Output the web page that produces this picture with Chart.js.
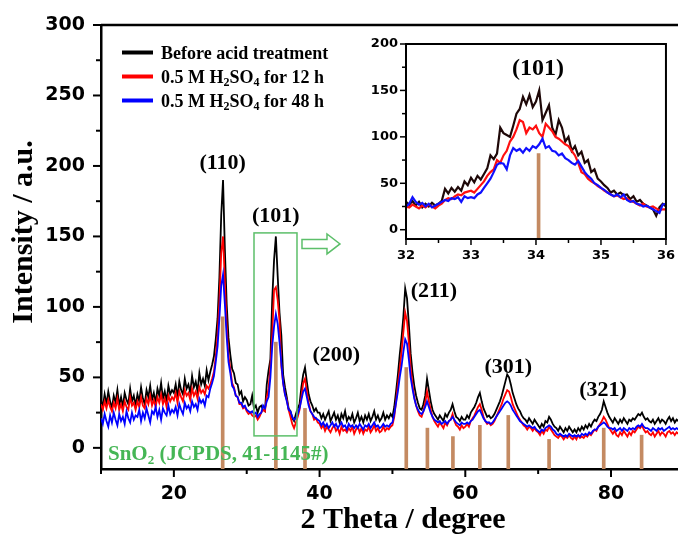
<!DOCTYPE html>
<html>
<head>
<meta charset="utf-8">
<script src="https://cdn.jsdelivr.net/npm/chart.js@4.4.1/dist/chart.umd.min.js"></script>
<style>
html, body { margin: 0; padding: 0; background: #fff; overflow: hidden; }
#wrap { position: relative; width: 678px; height: 535px; overflow: hidden; }
#main { position: absolute; left: 0; top: 0; }
#inset { position: absolute; left: 340px; top: 30px; }
</style>
</head>
<body>
<div id="wrap">
<canvas id="main" width="705" height="535"></canvas>
<canvas id="inset" width="338" height="232"></canvas>
</div>
<script>
// scan grid of the main pattern: 10 deg upward, 0.25 deg step
var angleStart = 10, angleStep = 0.25;

var before = [
  34, 29, 38, 31, 40, 33, 28, 37, 32, 41, 30, 36, 29, 39, 34, 31, 42, 33, 37, 30,
  38, 33, 43, 35, 31, 41, 36, 44, 34, 39, 32, 42, 37, 46, 35, 40, 33, 44, 38, 41,
  39, 45, 36, 47, 41, 38, 49, 42, 45, 39, 51, 43, 47, 40, 53, 45, 49, 44, 55, 48,
  54, 59, 65, 77, 92, 121, 165, 190, 141, 102, 78, 66, 56, 53, 46, 45, 38, 40, 33, 36,
  34, 30, 31, 37, 28, 30, 25, 29, 30, 27, 26, 45, 55, 63, 105, 133, 150, 122, 96, 80,
  52, 43, 36, 28, 26, 21, 19, 24, 28, 31, 43, 52, 57, 47, 38, 33, 30, 26, 28, 25,
  25, 21, 24, 20, 23, 26, 19, 22, 25, 20, 23, 18, 24, 21, 26, 19, 22, 20, 24, 18,
  21, 25, 19, 22, 18, 23, 20, 24, 19, 22, 26, 20, 23, 19, 21, 25, 20, 23, 21, 24,
  22, 29, 40, 52, 66, 78, 93, 113, 106, 88, 67, 54, 44, 37, 32, 28, 27, 31, 37, 49,
  41, 33, 27, 24, 22, 20, 23, 21, 19, 24, 22, 25, 27, 31, 26, 22, 21, 19, 22, 20,
  20, 23, 21, 25, 27, 29, 32, 36, 39, 33, 28, 25, 22, 23, 21, 22, 24, 27, 30, 33,
  37, 42, 47, 52, 50, 45, 39, 35, 31, 28, 26, 23, 21, 20, 18, 21, 19, 17, 20, 18,
  16, 14, 17, 15, 19, 18, 22, 20, 17, 15, 14, 12, 15, 13, 11, 14, 12, 15, 13, 11,
  13, 11, 14, 12, 15, 13, 16, 14, 17, 15, 18, 20, 19, 22, 24, 27, 33, 29, 25, 22,
  20, 18, 21, 19, 17, 20, 18, 21, 19, 17, 20, 19, 21, 20, 22, 24, 23, 25, 22, 20,
  21, 19, 18, 20, 17, 19, 21, 18, 20, 19, 17, 20, 22, 19, 21, 18, 20, 19
];
var acid12 = [
  31, 27, 33, 28, 34, 29, 26, 32, 28, 35, 27, 31, 26, 33, 29, 27, 36, 30, 32, 27,
  33, 29, 36, 30, 28, 35, 31, 37, 30, 34, 29, 36, 32, 38, 31, 35, 29, 37, 33, 36,
  34, 39, 32, 40, 36, 33, 41, 37, 39, 34, 42, 37, 40, 35, 43, 39, 41, 38, 44, 42,
  45, 49, 54, 65, 80, 104, 138, 150, 118, 87, 65, 56, 46, 43, 37, 36, 31, 31, 28, 29,
  26, 24, 25, 23, 22, 23, 20, 22, 25, 27, 26, 36, 42, 58, 80, 112, 114, 105, 90, 58,
  46, 38, 34, 27, 22, 17, 14, 18, 22, 27, 36, 46, 49, 40, 32, 26, 24, 20, 21, 18,
  17, 14, 16, 12, 15, 13, 11, 14, 16, 12, 14, 10, 15, 12, 13, 11, 14, 12, 15, 10,
  13, 15, 11, 14, 10, 13, 12, 15, 11, 13, 16, 12, 14, 11, 12, 15, 12, 14, 13, 15,
  16, 22, 33, 45, 56, 68, 82, 96, 90, 75, 57, 45, 36, 30, 26, 23, 22, 26, 32, 40,
  33, 27, 22, 19, 17, 15, 18, 16, 14, 18, 16, 19, 20, 24, 19, 16, 15, 13, 16, 14,
  15, 17, 15, 19, 21, 23, 26, 29, 31, 27, 22, 19, 17, 18, 16, 17, 19, 22, 25, 28,
  31, 35, 38, 41, 40, 36, 31, 28, 25, 22, 20, 18, 16, 15, 13, 15, 14, 12, 14, 12,
  11, 9, 12, 10, 13, 12, 15, 13, 11, 9, 8, 7, 9, 8, 6, 8, 7, 9, 7, 6,
  8, 6, 9, 7, 8, 7, 9, 8, 10, 9, 11, 13, 12, 15, 17, 19, 22, 20, 17, 14,
  12, 10, 12, 9, 8, 11, 9, 12, 10, 8, 11, 9, 12, 11, 13, 15, 14, 16, 13, 11,
  12, 10, 9, 11, 8, 10, 12, 9, 11, 10, 8, 11, 12, 10, 11, 9, 11, 10
];
var acid48 = [
  21, 17, 24, 19, 15, 23, 18, 25, 20, 16, 24, 19, 22, 17, 26, 21, 18, 25, 20, 23,
  22, 27, 19, 25, 21, 28, 23, 18, 26, 24, 29, 22, 27, 20, 28, 25, 23, 30, 24, 27,
  25, 29, 23, 31, 27, 24, 32, 28, 30, 26, 33, 29, 31, 27, 35, 32, 34, 30, 37, 36,
  42, 46, 51, 61, 72, 92, 115, 123, 102, 79, 61, 53, 44, 42, 37, 36, 32, 32, 29, 30,
  27, 26, 25, 26, 24, 25, 22, 24, 25, 30, 28, 33, 36, 50, 72, 86, 95, 88, 75, 60,
  46, 38, 33, 27, 26, 22, 20, 21, 24, 28, 34, 40, 42, 36, 30, 26, 24, 22, 21, 20,
  19, 16, 18, 15, 17, 14, 16, 18, 15, 17, 14, 16, 18, 15, 16, 13, 17, 15, 16, 14,
  16, 14, 17, 15, 13, 16, 15, 17, 14, 16, 18, 15, 16, 14, 15, 17, 15, 16, 15, 17,
  18, 24, 32, 40, 50, 58, 68, 77, 74, 63, 50, 42, 35, 30, 27, 25, 24, 26, 29, 33,
  29, 25, 22, 20, 19, 18, 19, 17, 18, 19, 17, 19, 20, 22, 20, 18, 17, 16, 18, 17,
  17, 18, 17, 19, 20, 22, 24, 26, 27, 24, 21, 19, 18, 18, 17, 18, 20, 22, 24, 26,
  28, 30, 32, 33, 32, 30, 27, 25, 23, 21, 19, 18, 17, 16, 15, 16, 15, 14, 15, 13,
  12, 11, 13, 12, 14, 15, 16, 15, 13, 12, 10, 9, 10, 9, 8, 9, 8, 10, 9, 8,
  9, 8, 9, 8, 10, 9, 10, 9, 11, 10, 12, 13, 13, 15, 16, 17, 18, 17, 15, 14,
  14, 13, 14, 12, 13, 14, 12, 14, 13, 12, 14, 13, 14, 13, 15, 16, 15, 17, 15, 14,
  14, 13, 12, 14, 13, 12, 14, 13, 14, 12, 13, 14, 15, 13, 14, 13, 14, 13
];

// SnO2 reference lines (JCPDS 41-1445)
var refAngle  = [26.7, 34.0, 38.0, 51.9, 54.8, 58.3, 62.0, 65.9, 71.5, 79.0, 84.2];
var refHeight = [93, 75, 28, 57, 14, 8, 16, 23, 6, 14, 9];

// inset: (101) region, 32-36 deg, 0.05 deg step
var insetStart = 32, insetStep = 0.05;
var insetBefore = [
  30, 27, 31, 26, 30, 24, 28, 25, 29, 26, 28, 31, 44, 39, 45, 41, 46, 42, 52, 48,
  56, 51, 58, 54, 60, 66, 80, 76, 82, 110, 104, 102, 100, 112, 125, 130, 143, 135, 145, 132,
  138, 150, 118, 126, 134, 110, 102, 118, 110, 95, 100, 85, 90, 80, 84, 72, 75, 62, 65, 55,
  52, 48, 45, 40, 42, 38, 40, 37, 38, 33, 36, 30, 32, 28, 26, 24, 22, 15, 24, 28,
  25
];
var insetAcid12 = [
  25, 24, 27, 25, 23, 26, 24, 27, 25, 23, 26, 28, 32, 34, 33, 36, 38, 37, 40, 41,
  42, 40, 44, 48, 52, 58, 62, 65, 75, 72, 80, 85, 95, 100, 108, 118, 116, 104, 110, 108,
  112, 104, 100, 114, 110, 106, 100, 98, 95, 92, 90, 85, 80, 72, 62, 60, 55, 52, 50, 47,
  45, 42, 40, 38, 36, 37, 35, 33, 34, 31, 30, 28, 26, 28, 25, 24, 25, 23, 21, 22,
  22
];
var insetAcid48 = [
  25, 28, 35, 30, 27, 29, 25, 28, 24, 26, 28, 30, 32, 31, 34, 33, 35, 30, 36, 34,
  35, 34, 38, 40, 45, 50, 55, 62, 70, 72, 71, 65, 80, 88, 85, 87, 83, 88, 85, 90,
  88, 92, 98, 88, 90, 85, 84, 80, 82, 77, 75, 72, 70, 74, 68, 62, 58, 55, 50, 48,
  45, 43, 40, 38, 36, 38, 35, 38, 32, 30, 31, 28, 27, 25, 26, 24, 22, 20, 18, 27,
  28
];
var insetRefAngle = [34.04];
var insetRefHeight = [82];

var seriesNames = ['Before acid treatment', '0.5 M H2SO4 for 12 h', '0.5 M H2SO4 for 48 h'];
var peakNames = ['(110)', '(101)', '(200)', '(211)', '(301)', '(321)'];

// where the hkl labels sit, in data units
var peakLabelAt = [[26.7, 202], [34.0, 164], [42.3, 66], [55.7, 111], [65.9, 57], [78.9, 41]];

var BROWN = '#c48a62';
var GREEN = '#45b655';
var SERIF = '"Liberation Serif", "Times New Roman", serif';
var SANS = '"DejaVu Sans", sans-serif';

function toPoints(start, step, vals) {
  return vals.map(function(v, i) {
    return {x: Math.round((start + i * step) * 100) / 100, y: v};
  });
}

function refBars(angles, heights, base) {
  return angles.map(function(a, i) { return {x: a, y: [base, heights[i]]}; });
}

function drawTicks(chart, id, isMajor, majorLen, minorLen, width) {
  var s = chart.scales[id], c = chart.ctx;
  c.save();
  c.strokeStyle = '#000';
  c.lineWidth = width;
  s.ticks.forEach(function(t) {
    var len = isMajor(t.value) ? majorLen : minorLen;
    var p = s.getPixelForValue(t.value);
    c.beginPath();
    if (s.isHorizontal()) {
      c.moveTo(p, s.top);
      c.lineTo(p, s.top + len);
    } else {
      c.moveTo(s.right, p);
      c.lineTo(s.right - len, p);
    }
    c.stroke();
  });
  c.restore();
}

// text with subscript digits, e.g. H2SO4
function richText(c, parts, x, y, size) {
  parts.forEach(function(p) {
    var sub = p[1];
    c.font = 'bold ' + (sub ? Math.round(size * 0.64) : size) + 'px ' + SERIF;
    c.fillText(p[0], x, sub ? y + size * 0.2 : y);
    x += c.measureText(p[0]).width;
  });
}

function splitFormula(str) {
  var parts = [];
  str.split(/(H2SO4|SnO2)/).forEach(function(s) {
    if (s === 'H2SO4') parts.push(['H', 0], ['2', 1], ['SO', 0], ['4', 1]);
    else if (s === 'SnO2') parts.push(['SnO', 0], ['2', 1]);
    else if (s) parts.push([s, 0]);
  });
  return parts;
}

var mainDecor = {
  id: 'mainDecor',
  afterDatasetsDraw: function(chart) {
    var c = chart.ctx, x = chart.scales.x, y = chart.scales.y;
    // green zoom box + hollow arrow
    var bx0 = x.getPixelForValue(31.0), bx1 = x.getPixelForValue(36.9);
    var by0 = y.getPixelForValue(152.5), by1 = y.getPixelForValue(8.5);
    c.save();
    c.strokeStyle = '#5cbf6a';
    c.lineWidth = 1.5;
    c.strokeRect(bx0, by0, bx1 - bx0, by1 - by0);
    var ax = bx1 + 5, ay = by0 + 11;
    c.beginPath();
    c.moveTo(ax, ay - 4.5);
    c.lineTo(ax + 25, ay - 4.5);
    c.lineTo(ax + 25, ay - 10);
    c.lineTo(ax + 38, ay);
    c.lineTo(ax + 25, ay + 10);
    c.lineTo(ax + 25, ay + 4.5);
    c.lineTo(ax, ay + 4.5);
    c.closePath();
    c.fillStyle = '#fff';
    c.fill();
    c.stroke();
    c.restore();
  },
  afterDraw: function(chart) {
    var c = chart.ctx, a = chart.chartArea, x = chart.scales.x, y = chart.scales.y;
    c.save();
    // top frame line
    c.strokeStyle = '#000';
    c.lineWidth = 2.5;
    c.beginPath();
    c.moveTo(a.left, a.top);
    c.lineTo(a.right, a.top);
    c.stroke();
    c.restore();

    drawTicks(chart, 'x', function(v) { return v % 20 === 0; }, 8, 5, 2);
    drawTicks(chart, 'y', function(v) { return v % 50 === 0; }, 8, 5, 2);

    c.save();
    c.fillStyle = '#000';
    // y title
    c.font = 'bold 30px ' + SERIF;
    c.textAlign = 'center';
    c.textBaseline = 'middle';
    c.translate(24, 232);
    c.rotate(-Math.PI / 2);
    c.fillText('Intensity / a.u.', 0, 0);
    c.restore();

    // legend
    var colors = ['#000', '#ff0000', '#0000ff'];
    c.save();
    c.lineWidth = 4;
    c.textAlign = 'left';
    c.textBaseline = 'alphabetic';
    c.fillStyle = '#000';
    seriesNames.forEach(function(name, i) {
      var ly = 52.5 + i * 24;
      c.strokeStyle = colors[i];
      c.beginPath();
      c.moveTo(122, ly);
      c.lineTo(153, ly);
      c.stroke();
      richText(c, splitFormula(name), 161, ly + 6, 18);
    });

    // hkl labels
    c.font = 'bold 22px ' + SERIF;
    c.textAlign = 'center';
    c.textBaseline = 'middle';
    peakNames.forEach(function(n, i) {
      c.fillText(n, x.getPixelForValue(peakLabelAt[i][0]), y.getPixelForValue(peakLabelAt[i][1]));
    });

    // reference card
    c.fillStyle = GREEN;
    c.textAlign = 'left';
    c.textBaseline = 'alphabetic';
    richText(c, splitFormula('SnO2 (JCPDS, 41-1145#)'), a.left + 7, y.getPixelForValue(0) + 12, 21);
    c.restore();
  }
};

new Chart(document.getElementById('main'), {
  type: 'line',
  data: {
    datasets: [
      {type: 'bar', label: 'JCPDS', data: refBars(refAngle, refHeight, -15),
       backgroundColor: BROWN, barThickness: 3, order: 0},
      {label: seriesNames[2], data: toPoints(angleStart, angleStep, acid48),
       borderColor: '#0000ff', borderWidth: 1.8, pointRadius: 0, order: 1},
      {label: seriesNames[1], data: toPoints(angleStart, angleStep, acid12),
       borderColor: '#ff0000', borderWidth: 1.8, pointRadius: 0, order: 2},
      {label: seriesNames[0], data: toPoints(angleStart, angleStep, before),
       borderColor: '#000000', borderWidth: 1.8, pointRadius: 0, order: 3}
    ]
  },
  plugins: [mainDecor],
  options: {
    responsive: false,
    animation: false,
    layout: {padding: {top: 25, left: 0, right: 0, bottom: 0}},
    plugins: {legend: {display: false}, tooltip: {enabled: false}},
    scales: {
      x: {
        type: 'linear', min: 10, max: 92.9, offset: false,
        grid: {display: true, offset: false, drawOnChartArea: false, tickLength: 8, tickColor: 'transparent'},
        border: {display: true, color: '#000', width: 2.5},
        ticks: {
          stepSize: 10, includeBounds: false, autoSkip: false, maxRotation: 0, padding: 6,
          color: '#000', font: {family: SANS, size: 19, weight: 'bold'},
          callback: function(v) { return v % 20 === 0 ? v : ''; }
        },
        title: {display: true, text: '2 Theta / degree', color: '#000',
                font: {family: SERIF, size: 30, weight: 'bold'}, padding: {top: 0, bottom: -3}},
        afterFit: function(s) { s.height = 66; }
      },
      y: {
        min: -15, max: 300,
        grid: {display: true, drawOnChartArea: false, tickLength: 8, tickColor: 'transparent'},
        border: {display: true, color: '#000', width: 2.5},
        ticks: {
          stepSize: 25, includeBounds: false, padding: 8,
          color: '#000', font: {family: SANS, size: 19, weight: 'bold'},
          callback: function(v) { return v % 50 === 0 ? v : ''; }
        },
        afterFit: function(s) { s.width = 101; }
      }
    }
  }
});

var insetDecor = {
  id: 'insetDecor',
  afterDraw: function(chart) {
    var c = chart.ctx, a = chart.chartArea, x = chart.scales.x, y = chart.scales.y;
    c.save();
    c.strokeStyle = '#000';
    c.lineWidth = 2;
    c.strokeRect(a.left, a.top, a.right - a.left, a.bottom - a.top);
    c.restore();
    drawTicks(chart, 'x', function(v) { return Number.isInteger(v); }, 6, 4, 1.5);
    drawTicks(chart, 'y', function(v) { return v % 50 === 0; }, 6, 4, 1.5);
    c.save();
    c.fillStyle = '#000';
    c.font = 'bold 24px ' + SERIF;
    c.textAlign = 'center';
    c.textBaseline = 'middle';
    c.fillText(peakNames[1], x.getPixelForValue(34.03), y.getPixelForValue(173));
    c.restore();
  }
};

new Chart(document.getElementById('inset'), {
  type: 'line',
  data: {
    datasets: [
      {type: 'bar', label: 'JCPDS', data: refBars(insetRefAngle, insetRefHeight, -10),
       backgroundColor: BROWN, barThickness: 3, order: 0},
      {label: seriesNames[2], data: toPoints(insetStart, insetStep, insetAcid48),
       borderColor: '#1010ff', borderWidth: 2.2, pointRadius: 0, order: 1},
      {label: seriesNames[1], data: toPoints(insetStart, insetStep, insetAcid12),
       borderColor: '#ff1010', borderWidth: 2.2, pointRadius: 0, order: 2},
      {label: seriesNames[0], data: toPoints(insetStart, insetStep, insetBefore),
       borderColor: '#1e0808', borderWidth: 2.2, pointRadius: 0, order: 3}
    ]
  },
  plugins: [insetDecor],
  options: {
    responsive: false,
    animation: false,
    layout: {padding: {top: 14, left: 0, right: 11, bottom: 0}},
    plugins: {legend: {display: false}, tooltip: {enabled: false}},
    scales: {
      x: {
        type: 'linear', min: 32, max: 36, offset: false,
        grid: {display: true, offset: false, drawOnChartArea: false, tickLength: 6, tickColor: 'transparent'},
        border: {display: true, color: '#000', width: 2},
        ticks: {
          stepSize: 0.5, autoSkip: false, maxRotation: 0, padding: 3,
          color: '#000', font: {family: SANS, size: 13, weight: 'bold'},
          callback: function(v) { return Number.isInteger(v) ? v : ''; }
        },
        afterFit: function(s) { s.height = 23; }
      },
      y: {
        min: -10, max: 200,
        grid: {display: true, drawOnChartArea: false, tickLength: 6, tickColor: 'transparent'},
        border: {display: true, color: '#000', width: 2},
        ticks: {
          stepSize: 25, includeBounds: false, padding: 2,
          color: '#000', font: {family: SANS, size: 13, weight: 'bold'},
          callback: function(v) { return v % 50 === 0 ? v : ''; }
        },
        afterFit: function(s) { s.width = 66; }
      }
    }
  }
});
</script>
</body>
</html>
